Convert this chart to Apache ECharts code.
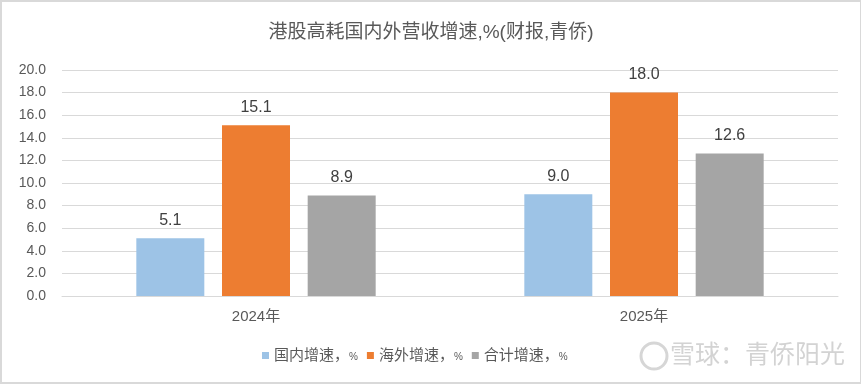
<!DOCTYPE html>
<html>
<head>
<meta charset="utf-8">
<script src="https://cdn.jsdelivr.net/npm/echarts@6/dist/echarts.min.js"></script>
<style>
html,body{margin:0;padding:0;background:#fff;}
#frame{position:absolute;left:0;top:0;width:858px;height:380px;border:2px solid #d9d9d9;border-right-width:1px;background:#fff;}
#chart{width:858px;height:380px;}
</style>
</head>
<body>
<div id="frame"><div id="chart"></div></div>
<script>
const titleText = '港股高耗国内外营收增速,%(财报,青侨)';
const categories = ['2024年', '2025年'];
const seriesNames = ['国内增速，%', '海外增速，%', '合计增速，%'];
const domestic = [5.1, 9.0];
const overseas = [15.1, 18.0];
const total = [8.9, 12.6];
const colors = ['#9DC3E6', '#ED7D31', '#A5A5A5'];
const watermark = '雪球：青侨阳光';

const FONT = '"Liberation Sans", "Noto Sans CJK SC", sans-serif';
const chart = echarts.init(document.getElementById('chart'), null, {renderer: 'canvas'});
const values = [domestic, overseas, total];
chart.setOption({
  animation: false,
  color: colors,
  textStyle: {fontFamily: FONT},
  title: {
    text: titleText,
    left: 'center',
    top: 16,
    textStyle: {color: '#595959', fontSize: 19, fontWeight: 'normal', fontFamily: FONT}
  },
  legend: {
    data: seriesNames,
    left: 260,
    top: 346,
    padding: 0,
    itemWidth: 7,
    itemHeight: 7,
    itemGap: 9,
    icon: 'rect',
    formatter: n => '{a|' + n.slice(0, -1) + '}{b|%}',
    textStyle: {color: '#595959', fontSize: 15, fontFamily: FONT,
      rich: {a: {fontSize: 15, color: '#595959', fontFamily: FONT}, b: {fontSize: 10, color: '#595959', padding: [3, 0, 0, 0], fontFamily: FONT}}}
  },
  grid: {left: 60, right: 22, top: 68, bottom: 86},
  xAxis: {
    type: 'category',
    data: categories,
    axisLine: {lineStyle: {color: '#d9d9d9', width: 1}},
    axisTick: {show: false},
    axisLabel: {color: '#595959', fontSize: 15, margin: 13, fontFamily: FONT}
  },
  yAxis: {
    type: 'value',
    min: 0, max: 20, interval: 2,
    axisLine: {show: false},
    axisTick: {show: false},
    splitLine: {lineStyle: {color: '#d9d9d9', width: 1}},
    axisLabel: {color: '#595959', fontSize: 14, margin: 16, fontFamily: FONT,
      formatter: v => v.toFixed(1)}
  },
  series: seriesNames.map((n, i) => ({
    name: n,
    type: 'bar',
    data: values[i],
    barWidth: 68,
    barGap: '26%',
    label: {show: true, position: 'top', distance: 10, color: '#404040', fontSize: 16, fontFamily: FONT,
      formatter: p => p.value.toFixed(1)}
  })),
  graphic: [
    {type: 'circle', shape: {cx: 652, cy: 354, r: 13}, style: {fill: 'none', stroke: '#d6d6d6', lineWidth: 3}},
    {type: 'text', left: 668, top: 339, style: {text: watermark, fill: '#d3d3d3', font: '25px "Noto Sans CJK SC", sans-serif'}}
  ]
});
</script>
</body>
</html>
